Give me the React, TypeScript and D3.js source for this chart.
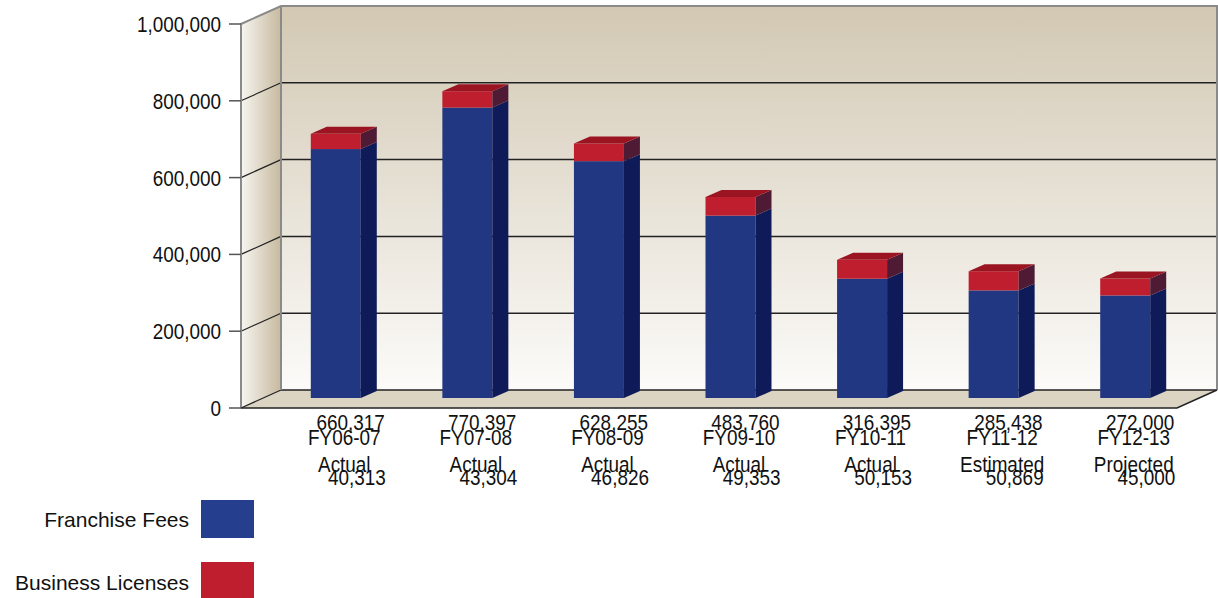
import React from "react";
import * as d3 from "d3";

const categories = ["FY06-07|Actual", "FY07-08|Actual", "FY08-09|Actual", "FY09-10|Actual", "FY10-11|Actual", "FY11-12|Estimated", "FY12-13|Projected"];
const franchiseFees = [660317, 770397, 628255, 483760, 316395, 285438, 272000];
const businessLicenses = [40313, 43304, 46826, 49353, 50153, 50869, 45000];
const yTicks = [0, 200000, 400000, 600000, 800000, 1000000];
const seriesNames = ["Franchise Fees", "Business Licenses"];

const W = 1218, H = 598;
const DX = 40, DY = -18; // wall depth
const BDX = 16, BDY = -7; // bar depth
const font = "'Liberation Sans', Arial, sans-serif";
const SX = 0.86; // horizontal condensing of axis text

const C = {
  blue: "#213782", blueSide: "#0e1b58",
  red: "#be1e2d", redSide: "#4e1a34", redTop: "#9a1422",
  legendBlue: "#253f8e",
};

function CText({ x, y, anchor, children }: { x: number; y: number; anchor: string; children: React.ReactNode }) {
  return (
    <text transform={`translate(${x},${y}) scale(${SX},1)`} textAnchor={anchor} fontFamily={font} fontSize={22} fill="#111">
      {children}
    </text>
  );
}

export default function App() {
  const x0 = 241, x1 = 1177;
  const y = d3.scaleLinear().domain([0, 1000000]).range([408, 24]);
  const yBar = d3.scaleLinear().domain([0, 1000000]).range([398, 21]);
  const xb = d3.scaleBand<string>().domain(categories).range([270, 1191]).paddingInner(0.62).paddingOuter(0.31);
  const bw = xb.bandwidth();
  const fmt = d3.format(",");

  const top = y(1000000), base = y(0);
  const poly = (pts: number[][]) => pts.map((p) => p.join(",")).join(" ");

  return (
    <svg width={W} height={H} style={{ position: "absolute", left: 0, top: 0, background: "#fff" }}>
      <defs>
        <linearGradient id="back" x1="0" y1="0" x2="0" y2="1">
          <stop offset="0" stopColor="#d2c8b3" />
          <stop offset="1" stopColor="#fcfbf9" />
        </linearGradient>
        <linearGradient id="left" x1="0" y1="0" x2="1" y2="0">
          <stop offset="0" stopColor="#f7f5f0" />
          <stop offset="1" stopColor="#c6b99e" />
        </linearGradient>
      </defs>
      {/* back wall */}
      <rect x={x0 + DX} y={top + DY} width={x1 - x0} height={base - top} fill="url(#back)" />
      {/* left wall */}
      <polygon points={poly([[x0, base], [x0, top], [x0 + DX, top + DY], [x0 + DX, base + DY]])} fill="url(#left)" />
      {/* floor */}
      <polygon points={poly([[x0, base], [x0 + DX, base + DY], [x1 + DX, base + DY], [x1, base]])} fill="#dcd4c3" />
      {/* gridlines */}
      {yTicks.filter((t) => t < 1000000).map((t) => (
        <g key={t}>
          <line x1={x0} y1={y(t)} x2={x0 + DX} y2={y(t) + DY} stroke="#222" strokeWidth={1.2} />
          <line x1={x0 + DX} y1={y(t) + DY} x2={x1 + DX} y2={y(t) + DY} stroke="#222" strokeWidth={1.5} />
        </g>
      ))}
      {/* wall edges */}
      <polyline points={poly([[x0, base], [x0, top], [x0 + DX, top + DY], [x1 + DX, top + DY], [x1 + DX, base + DY]])} fill="none" stroke="#8a8a8a" strokeWidth={2} />
      <line x1={x0 + DX} y1={top + DY} x2={x0 + DX} y2={base + DY} stroke="#8a8a8a" strokeWidth={2} />
      <polyline points={poly([[x0, base], [x1, base], [x1 + DX, base + DY]])} fill="none" stroke="#222" strokeWidth={1.5} />
      {/* y axis ticks & labels */}
      {yTicks.map((t) => (
        <g key={"t" + t}>
          <line x1={229} x2={x0} y1={y(t)} y2={y(t)} stroke="#555" strokeWidth={1.5} />
          <CText x={221} y={y(t) + 8} anchor="end">{fmt(t)}</CText>
        </g>
      ))}
      {/* bars */}
      {categories.map((c, i) => {
        const bx = xb(c)!;
        const b0 = yBar(0), b1 = yBar(franchiseFees[i]), b2 = yBar(franchiseFees[i] + businessLicenses[i]);
        return (
          <g key={c}>
            <rect x={bx} y={b1} width={bw} height={b0 - b1} fill={C.blue} />
            <polygon points={poly([[bx + bw, b0], [bx + bw, b1], [bx + bw + BDX, b1 + BDY], [bx + bw + BDX, b0 + BDY]])} fill={C.blueSide} />
            <rect x={bx} y={b2} width={bw} height={b1 - b2} fill={C.red} />
            <polygon points={poly([[bx + bw, b1], [bx + bw, b2], [bx + bw + BDX, b2 + BDY], [bx + bw + BDX, b1 + BDY]])} fill={C.redSide} />
            <polygon points={poly([[bx, b2], [bx + BDX, b2 + BDY], [bx + bw + BDX, b2 + BDY], [bx + bw, b2]])} fill={C.redTop} />
          </g>
        );
      })}
      {/* category labels */}
      {categories.map((c, i) => {
        const cx = xb(c)! + bw / 2;
        const [l1, l2] = c.split("|");
        return (
          <g key={"l" + c}>
            <CText x={cx + 49} y={430} anchor="end">{fmt(franchiseFees[i])}</CText>
            <CText x={cx + 8.5} y={445} anchor="middle">{l1}</CText>
            <CText x={cx + 8.5} y={472} anchor="middle">{l2}</CText>
            <CText x={cx + 50} y={485} anchor="end">{fmt(businessLicenses[i])}</CText>
          </g>
        );
      })}
      {/* legend */}
      {seriesNames.map((s, i) => (
        <g key={s}>
          <text x={189} y={527 + i * 63} textAnchor="end" fontFamily={font} fontSize={21} fill="#111">{s}</text>
          <rect x={201} y={500 + i * 62} width={53} height={38} fill={i === 0 ? C.legendBlue : C.red} />
        </g>
      ))}
    </svg>
  );
}
